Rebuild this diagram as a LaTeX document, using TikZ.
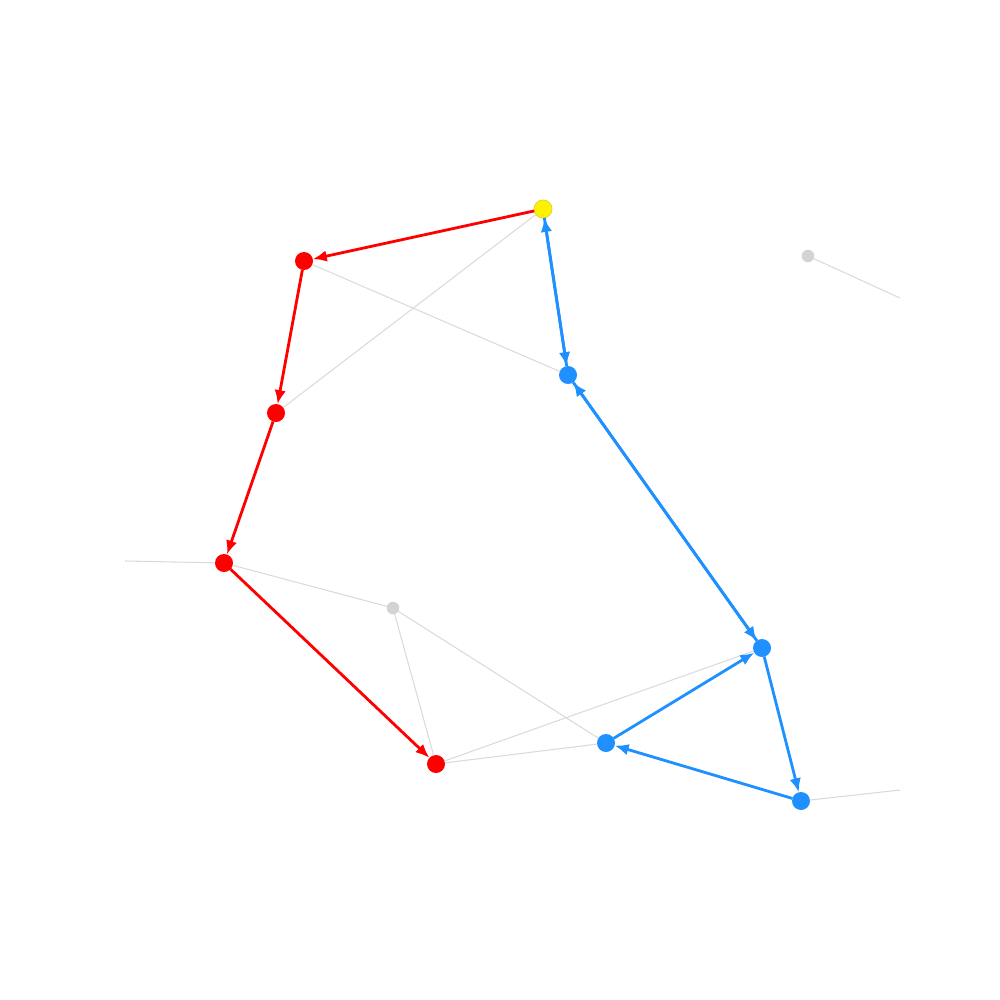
\documentclass[tikz,border=0pt]{standalone}
\usepackage{tikz}
\usetikzlibrary{arrows.meta}

\definecolor{dodger}{RGB}{30,144,255}
\definecolor{softgray}{RGB}{211,211,211}
\definecolor{edgegray}{RGB}{218,218,218}

\begin{document}
\begin{tikzpicture}[
	x=0.01cm, y=-0.01cm,
	vertex/.style={circle, inner sep=0pt, outer sep=0pt, minimum size=1.8mm},
	redv/.style={vertex, fill=red},
	bluev/.style={vertex, fill=dodger},
	startv/.style={vertex, fill=yellow, draw=yellow!85!black, line width=0.2pt},
	idlev/.style={vertex, fill=softgray, minimum size=1.25mm},
	faint/.style={draw=edgegray, line width=0.3pt},
	redline/.style={-{Latex[length=1.4mm,width=1.15mm]}, draw=red, line width=0.8pt},
	blueline/.style={-{Latex[length=1.4mm,width=1.15mm]}, draw=dodger, line width=0.8pt}
]
\useasboundingbox (0,0) rectangle (1000,1000);

\coordinate (outA) at (900,298);
\coordinate (outB) at (125,561);
\coordinate (outC) at (900,790);

\node[idlev] (g1) at (808,256) {};
\node[idlev] (g2) at (393,608) {};

\node[startv] (s) at (543,209) {};
\node[redv] (r1) at (304,261) {};
\node[redv] (r2) at (276,413) {};
\node[redv] (r3) at (224,563) {};
\node[redv] (r4) at (436,764) {};
\node[bluev] (b1) at (568,375) {};
\node[bluev] (b2) at (762,648) {};
\node[bluev] (b3) at (606,743) {};
\node[bluev] (b4) at (801,801) {};

% background edges
\draw[faint] (g1) -- (outA);
\draw[faint] (outB) -- (r3);
\draw[faint] (r3) -- (g2);
\draw[faint] (g2) -- (r4);
\draw[faint] (g2) -- (b3);
\draw[faint] (r4) -- (b3);
\draw[faint] (r4) -- (b2);
\draw[faint] (b4) -- (outC);
\draw[faint] (s) -- (r2);
\draw[faint] (r1) -- (b1);

% red path
\draw[redline] (s) -- (r1);
\draw[redline] (r1) -- (r2);
\draw[redline] (r2) -- (r3);
\draw[redline] (r3) -- (r4);

% blue path
\draw[blueline] (s) -- (b1);
\draw[blueline] (b1) -- (s);
\draw[blueline] (b1) -- (b2);
\draw[blueline] (b2) -- (b1);
\draw[blueline] (b2) -- (b4);
\draw[blueline] (b4) -- (b3);
\draw[blueline] (b3) -- (b2);
\end{tikzpicture}
\end{document}
